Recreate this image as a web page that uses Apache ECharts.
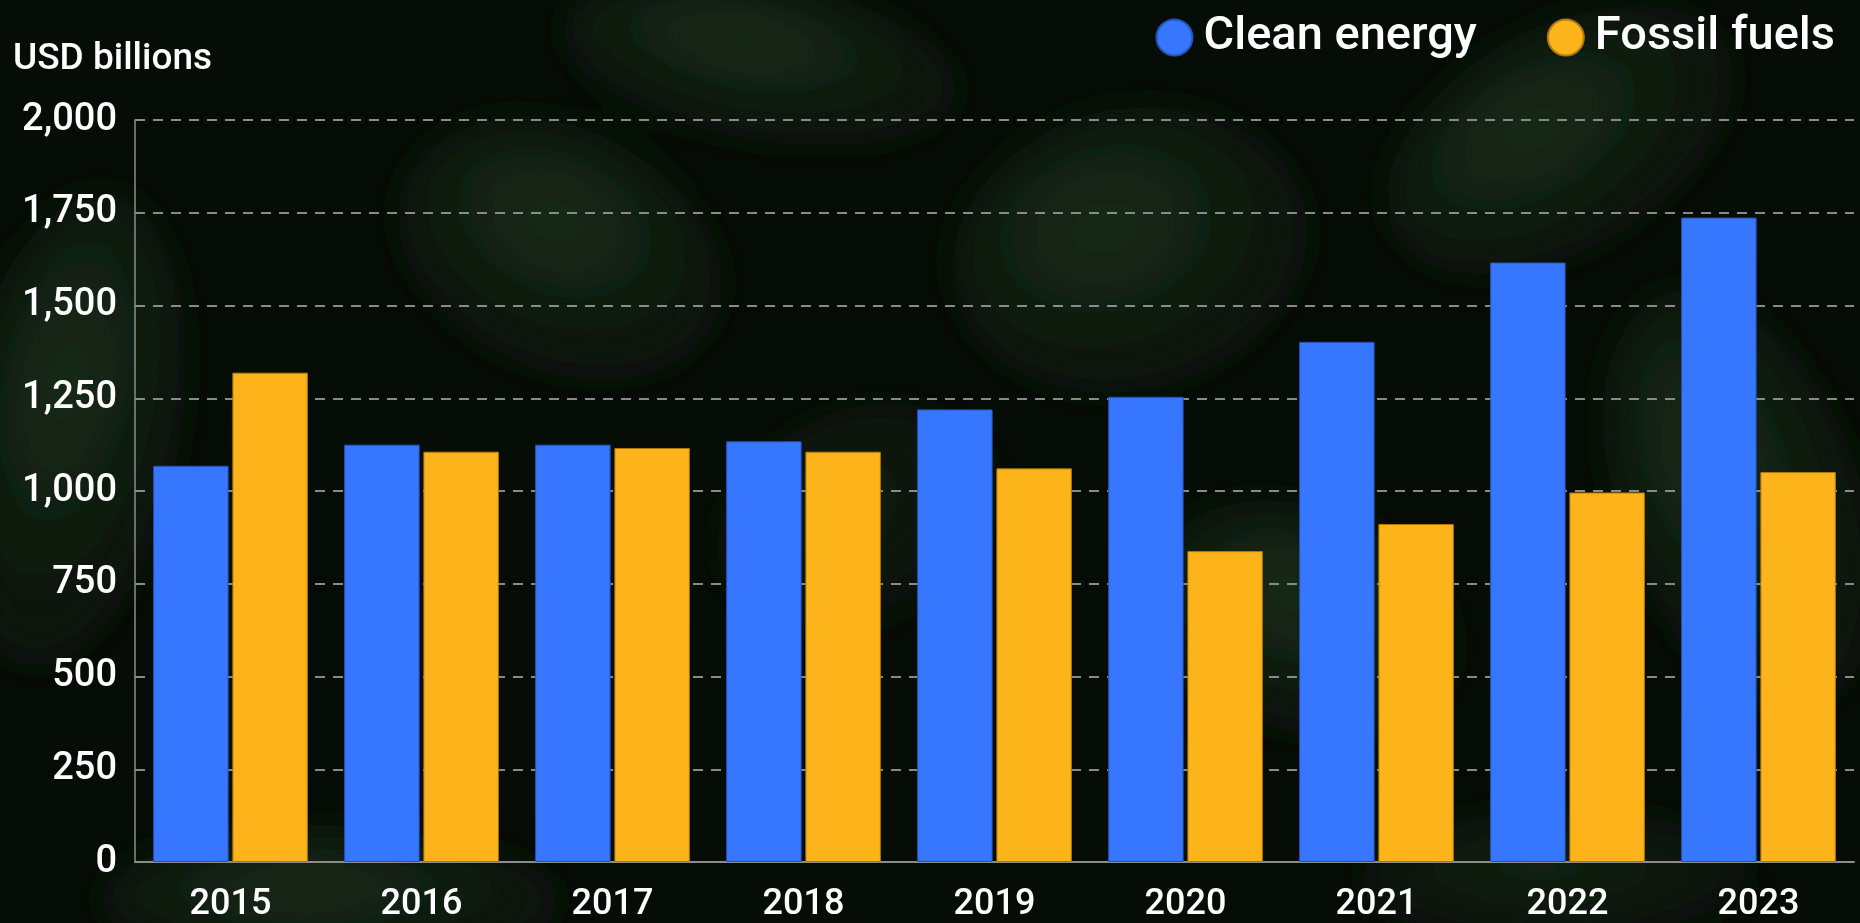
<!DOCTYPE html>
<html>
<head>
<meta charset="utf-8">
<title>Clean energy vs fossil fuels investment</title>
<script src="https://cdn.jsdelivr.net/npm/echarts@6/dist/echarts.min.js"></script>
<style>
  html, body { margin: 0; padding: 0; width: 100%; height: 100%; overflow: hidden; background: #050a05; }
  #leaves { position: absolute; left: 0; top: 0; width: 1860px; height: 923px; }
  #chart { position: absolute; left: 0; top: 0; width: 1860px; height: 923px; }
</style>
</head>
<body>
<!-- dark foliage backdrop -->
<svg id="leaves" viewBox="0 0 1860 923" xmlns="http://www.w3.org/2000/svg">
  <defs>
    <filter id="soft" x="-30%" y="-30%" width="160%" height="160%"><feGaussianBlur stdDeviation="20"/></filter>
    <radialGradient id="leafFill" cx="45%" cy="40%" r="60%">
      <stop offset="0%" stop-color="#1d321e" stop-opacity="0.85"/>
      <stop offset="100%" stop-color="#0e1a0e" stop-opacity="0.55"/>
    </radialGradient>
  </defs>
  <rect width="1860" height="923" fill="#060c06"/>
  <g filter="url(#soft)" fill="url(#leafFill)">
    <ellipse cx="560" cy="250" rx="170" ry="120" transform="rotate(25 560 250)"/>
    <ellipse cx="1130" cy="250" rx="180" ry="140" transform="rotate(-15 1130 250)"/>
    <ellipse cx="1560" cy="140" rx="190" ry="110" transform="rotate(-30 1560 140)"/>
    <ellipse cx="760" cy="60" rx="200" ry="80" transform="rotate(10 760 60)"/>
    <ellipse cx="70" cy="430" rx="110" ry="240" transform="rotate(10 70 430)"/>
    <ellipse cx="1740" cy="500" rx="120" ry="220" transform="rotate(-20 1740 500)"/>
    <ellipse cx="1300" cy="620" rx="160" ry="110" transform="rotate(20 1300 620)"/>
    <ellipse cx="330" cy="900" rx="230" ry="70"/>
    <ellipse cx="860" cy="520" rx="150" ry="110" transform="rotate(-25 860 520)" opacity="0.6"/>
    <ellipse cx="1560" cy="880" rx="200" ry="70" opacity="0.7"/>
  </g>
</svg>
<div id="chart"></div>
<script>
// Annual investment, USD billions
const years = ['2015', '2016', '2017', '2018', '2019', '2020', '2021', '2022', '2023'];
const cleanEnergy = [1068, 1125, 1125, 1134, 1220, 1254, 1402, 1616, 1737];
const fossilFuels = [1319, 1106, 1116, 1106, 1061, 838, 911, 996, 1051];
const yTicks = { min: 0, max: 2000, interval: 250 };

const FONT = 'Roboto, "Noto Sans", sans-serif';
const BLUE = '#3777ff';
const ORANGE = '#fdb31a';

const chart = echarts.init(document.getElementById('chart'), null, { renderer: 'canvas' });

chart.setOption({
  backgroundColor: 'transparent',
  animation: false,
  textStyle: { fontFamily: FONT },
  title: {
    text: 'USD billions',
    left: 8,
    top: 36,
    textStyle: { color: '#ffffff', fontSize: 37, fontWeight: 500, fontFamily: FONT }
  },
  legend: {
    right: 20,
    top: 9,
    icon: 'circle',
    itemWidth: 36,
    itemHeight: 36,
    itemGap: 70,
    textStyle: { color: '#ffffff', fontSize: 47, fontWeight: 500, fontFamily: FONT, padding: [0, 0, 0, 6] },
    data: ['Clean energy', 'Fossil fuels']
  },
  grid: { left: 135, right: 6, top: 120, bottom: 59, containLabel: false },
  xAxis: {
    type: 'category',
    data: years,
    axisLine: { show: true, lineStyle: { color: '#8c8c8c', width: 2 } },
    axisTick: { show: false },
    axisLabel: { color: '#ffffff', fontSize: 36, fontWeight: 500, margin: 25, fontFamily: FONT }
  },
  yAxis: {
    type: 'value',
    min: yTicks.min,
    max: yTicks.max,
    interval: yTicks.interval,
    axisLine: { show: true, lineStyle: { color: '#8c8c8c', width: 1.5 } },
    axisTick: { show: false },
    axisLabel: {
      color: '#ffffff', fontSize: 38, fontWeight: 500, margin: 18, fontFamily: FONT,
      formatter: v => v.toLocaleString('en-US')
    },
    splitLine: { show: true, lineStyle: { color: '#8a8a8a', width: 2, type: [10, 8] } }
  },
  series: [
    {
      name: 'Clean energy',
      type: 'bar',
      data: cleanEnergy,
      barGap: '5%',
      barCategoryGap: '19%',
      itemStyle: { color: BLUE, borderColor: '#2552b8', borderWidth: 1 }
    },
    {
      name: 'Fossil fuels',
      type: 'bar',
      data: fossilFuels,
      barGap: '5%',
      barCategoryGap: '19%',
      itemStyle: { color: ORANGE, borderColor: '#b07a0e', borderWidth: 1 }
    }
  ]
});
</script>
</body>
</html>
